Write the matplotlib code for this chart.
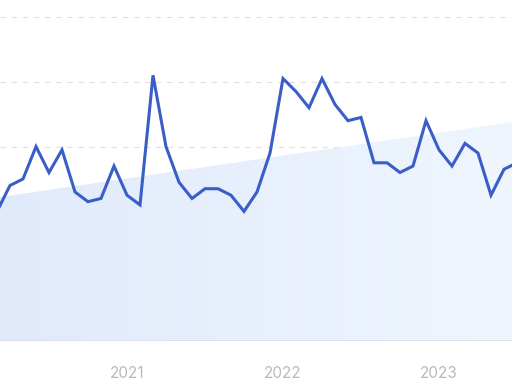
import numpy as np
import matplotlib.pyplot as plt
from matplotlib.colors import LinearSegmentedColormap

# Monthly series, Mar 2020 .. Jul 2023
months = ['2020-03', '2020-04', '2020-05', '2020-06', '2020-07', '2020-08',
          '2020-09', '2020-10', '2020-11', '2020-12', '2021-01', '2021-02',
          '2021-03', '2021-04', '2021-05', '2021-06', '2021-07', '2021-08',
          '2021-09', '2021-10', '2021-11', '2021-12', '2022-01', '2022-02',
          '2022-03', '2022-04', '2022-05', '2022-06', '2022-07', '2022-08',
          '2022-09', '2022-10', '2022-11', '2022-12', '2023-01', '2023-02',
          '2023-03', '2023-04', '2023-05', '2023-06', '2023-07']
values = [40, 48, 50, 60, 52, 59, 46, 43, 44, 54, 45, 42,
          82, 60, 49, 44, 47, 47, 45, 40, 46, 58, 81, 77,
          72, 81, 73, 68, 69, 55, 55, 52, 54, 68, 59, 54,
          61, 58, 45, 53, 55]
trend_start = 44.3
trend_end = 67.8

x = np.arange(len(months))
trend = np.linspace(trend_start, trend_end, len(months))

fig = plt.figure(figsize=(5.12, 3.84), dpi=100)
ax = fig.add_axes([0, 43 / 384, 1, 340.2 / 384])
ax.set_xlim(3 / 13, 515 / 13)
ax.set_ylim(0, 105)

# gridlines
for g in [20, 40, 60, 80, 100]:
    ax.axhline(g, color='#e0e0e0', lw=0.8, ls=(0, (5, 5)), zorder=1)
ax.axhline(0, color='#ddd9ee', lw=1.2, zorder=2)

# trend area with a soft horizontal gradient
poly = ax.fill_between(x, 0, trend, color='none', lw=0)
cmap = LinearSegmentedColormap.from_list('bg', ['#e1eafb', '#eff6fe'])
img = ax.imshow(np.linspace(0, 1, 256).reshape(1, -1), cmap=cmap, aspect='auto',
                extent=[x[0], x[-1], 0, 105], origin='lower', zorder=1.5)
img.set_clip_path(poly.get_paths()[0], transform=ax.transData)

ax.plot(x, values, color='#3a5ec8', lw=2.2, solid_joinstyle='miter', zorder=3)

# year ticks at each January
ticks = [i for i, m in enumerate(months) if m.endswith('-01')]
ax.set_xticks(ticks)
ax.set_xticklabels([months[i][:4] for i in ticks], fontsize=11,
                   color='#bababa', family=['Inter', 'DejaVu Sans'])
ax.tick_params(axis='x', length=0, pad=18)
ax.set_yticks([])
for s in ax.spines.values():
    s.set_visible(False)

fig.savefig('out.png', dpi=100)
